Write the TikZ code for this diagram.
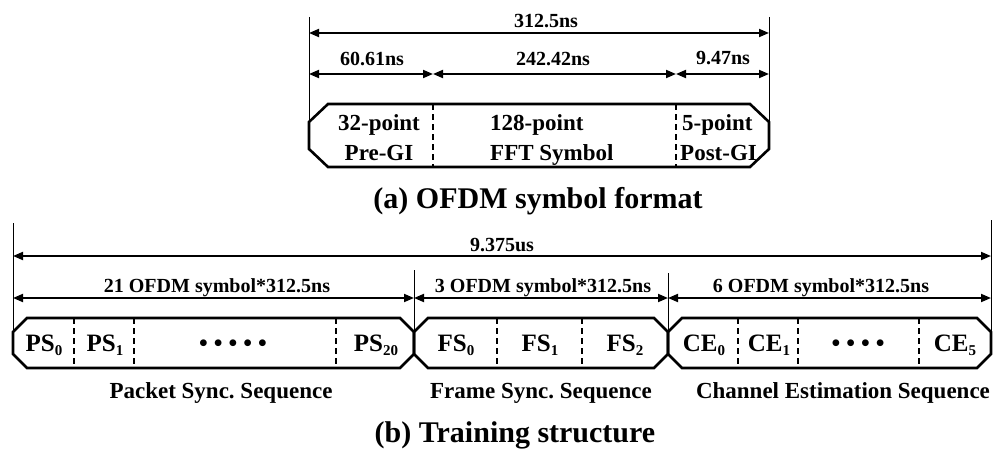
\documentclass[tikz,border=0pt]{standalone}
\usepackage{fontspec}
\setmainfont{Liberation Serif}
\usetikzlibrary{arrows.meta}
\frenchspacing
% subscript index in the sequence labels
\newcommand\idx[1]{\raisebox{-4pt}{\fontsize{15}{15}\selectfont #1}}
\begin{document}
\begin{tikzpicture}[x=1pt,y=-1pt,
  extline/.style={line width=0.9pt},
  dimarrow/.style={line width=1.9pt,
    {Triangle[length=10pt,width=8pt]}-{Triangle[length=10pt,width=8pt]}},
  boxline/.style={line width=2.6pt, line join=miter},
  cutline/.style={line width=1.8pt, dash pattern=on 6pt off 4pt},
  dimlbl/.style={font=\fontsize{20}{20}\selectfont\bfseries, inner sep=0pt, anchor=base},
  fmtlbl/.style={font=\fontsize{23}{23}\selectfont\bfseries, inner sep=0pt, anchor=base},
  seglbl/.style={font=\fontsize{25}{25}\selectfont\bfseries, inner sep=0pt, anchor=base},
  seqlbl/.style={font=\fontsize{23}{23}\selectfont\bfseries, inner sep=0pt, anchor=base},
  caplbl/.style={font=\fontsize{30}{30}\selectfont\bfseries, inner sep=0pt, anchor=base}]
\useasboundingbox (0,0) rectangle (1002,452);

% ---------------- (a) OFDM symbol format ----------------
\coordinate (aL0) at (309,17);  \coordinate (aL1) at (309,122);
\coordinate (aR0) at (769,17);  \coordinate (aR1) at (769,122);
\draw[extline] (aL0) -- (aL1);
\draw[extline] (aR0) -- (aR1);

\coordinate (t0) at (309,33); \coordinate (t1) at (769,33);
\draw[dimarrow] (t0) -- (t1);
\node[dimlbl] (lt) at (546,28) {312.5ns};

\coordinate (s0) at (309,74); \coordinate (s1) at (433,74);
\coordinate (s2) at (676,74); \coordinate (s3) at (769,74);
\draw[dimarrow] (s0) -- (s1);
\draw[dimarrow] (s1) -- (s2);
\draw[dimarrow] (s2) -- (s3);
\node[dimlbl] (ls1) at (372,66) {60.61ns};
\node[dimlbl] (ls2) at (553,66) {242.42ns};
\node[dimlbl] (ls3) at (723,65) {9.47ns};

% chamfered symbol frame
\draw[boxline] (328,104) -- (750,104) -- (769,122) -- (769,149) -- (750,167)
  -- (328,167) -- (309,149) -- (309,122) -- cycle;
\coordinate (d1a) at (433,104); \coordinate (d1b) at (433,167);
\coordinate (d2a) at (676,104); \coordinate (d2b) at (676,167);
\draw[cutline] (d1a) -- (d1b);
\draw[cutline] (d2a) -- (d2b);

\node[fmtlbl] (pre1) at (379,131) {32-point};
\node[fmtlbl] (pre2) at (379,160) {Pre-GI};
\node[fmtlbl, anchor=base west] (fft1) at (490,131) {128-point};
\node[fmtlbl, anchor=base west] (fft2) at (490,160) {FFT Symbol};
\node[fmtlbl, anchor=base west] (post1) at (682,131) {5-point};
\node[fmtlbl, anchor=base west] (post2) at (680,160) {Post-GI};

\node[caplbl] (capa) at (538,208) {(a) OFDM symbol format};

% ---------------- (b) Training structure ----------------
\coordinate (bL0) at (13,223);  \coordinate (bL1) at (13,332);
\coordinate (bM0) at (414,270); \coordinate (bM1) at (414,332);
\coordinate (bN0) at (668,273); \coordinate (bN1) at (668,332);
\coordinate (bR0) at (991,220); \coordinate (bR1) at (991,332);
\draw[extline] (bL0) -- (bL1);
\draw[extline] (bM0) -- (bM1);
\draw[extline] (bN0) -- (bN1);
\draw[extline] (bR0) -- (bR1);

\coordinate (u0) at (13,256); \coordinate (u1) at (991,256);
\draw[dimarrow] (u0) -- (u1);
\node[dimlbl] (lu) at (502,251) {9.375us};

\coordinate (v0) at (13,298);  \coordinate (v1) at (414,298);
\coordinate (v2) at (668,298); \coordinate (v3) at (991,298);
\draw[dimarrow] (v0) -- (v1);
\draw[dimarrow] (v1) -- (v2);
\draw[dimarrow] (v2) -- (v3);
\node[dimlbl] (lv1) at (217,292) {21 OFDM symbol*312.5ns};
\node[dimlbl] (lv2) at (543,292) {3 OFDM symbol*312.5ns};
\node[dimlbl] (lv3) at (821,292) {6 OFDM symbol*312.5ns};

% three chamfered sequence frames
\draw[boxline] (27,318) -- (400,318) -- (414,332) -- (414,354) -- (400,368)
  -- (27,368) -- (13,354) -- (13,332) -- cycle;
\draw[boxline] (428,318) -- (654,318) -- (668,332) -- (668,354) -- (654,368)
  -- (428,368) -- (414,354) -- (414,332) -- cycle;
\draw[boxline] (682,318) -- (977,318) -- (991,332) -- (991,354) -- (977,368)
  -- (682,368) -- (668,354) -- (668,332) -- cycle;

\foreach \x/\n in {74/p1,134/p2,336/p3,497/f1,582/f2,738/c1,798/c2,919/c3}{
  \coordinate (\n a) at (\x,318); \coordinate (\n b) at (\x,368);
  \draw[cutline] (\n a) -- (\n b);
}

\node[seglbl] (ps0) at (44,351) {PS\idx{0}};
\node[seglbl] (ps1) at (105,351) {PS\idx{1}};
\node[seglbl] (psd) at (233,351) {\textbullet\hspace{6pt}\textbullet\hspace{6pt}\textbullet\hspace{6pt}\textbullet\hspace{6pt}\textbullet};
\node[seglbl] (ps20) at (376,351) {PS\idx{20}};
\node[seglbl] (fs0) at (456,351) {FS\idx{0}};
\node[seglbl] (fs1) at (540,351) {FS\idx{1}};
\node[seglbl] (fs2) at (625,351) {FS\idx{2}};
\node[seglbl] (ce0) at (704,351) {CE\idx{0}};
\node[seglbl] (ce1) at (769,351) {CE\idx{1}};
\node[seglbl] (ced) at (858,351) {\textbullet\hspace{6pt}\textbullet\hspace{6pt}\textbullet\hspace{6pt}\textbullet};
\node[seglbl] (ce5) at (955,351) {CE\idx{5}};

\node[seqlbl] (seq1) at (221,398) {Packet Sync. Sequence};
\node[seqlbl] (seq2) at (541,398) {Frame Sync. Sequence};
\node[seqlbl] (seq3) at (843,398) {Channel Estimation Sequence};

\node[caplbl] (capb) at (515,442) {(b) Training structure};
\end{tikzpicture}
\end{document}
